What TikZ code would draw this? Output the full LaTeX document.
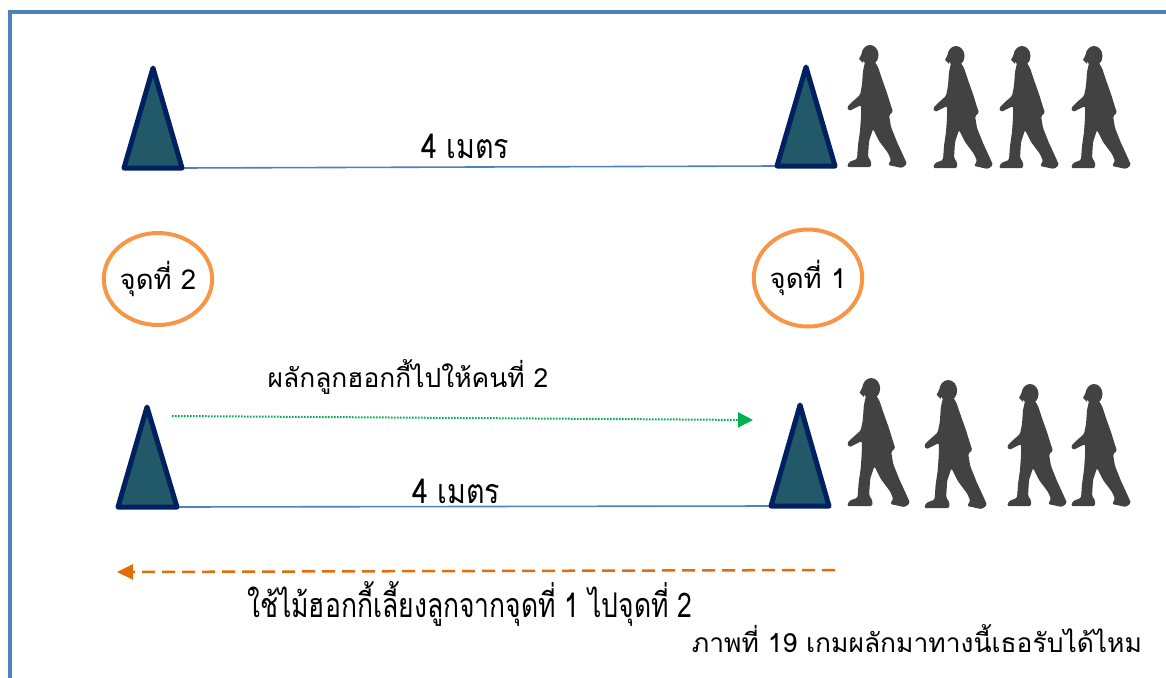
\documentclass[tikz,border=0pt]{standalone}
\usepackage{fontspec}
\usetikzlibrary{arrows.meta,shapes.geometric}
\newfontfamily\thai[Script=Thai]{Loma}
\newfontfamily\thaicond[Script=Thai,FakeStretch=0.78]{Loma}
\newfontfamily\thaimid[Script=Thai,FakeStretch=0.84]{Loma}

\definecolor{frameblue}{HTML}{4F81BD}
\definecolor{conefill}{HTML}{215968}
\definecolor{coneedge}{HTML}{002060}
\definecolor{ringorange}{HTML}{F79646}
\definecolor{dashorange}{HTML}{E46C0A}
\definecolor{walkgrey}{HTML}{424242}
\definecolor{passgreen}{HTML}{00B050}

\tikzset{
  x=1pt, y=-1pt,
  cone/.style={fill=conefill, draw=coneedge, line width=5pt, line join=round},
  distline/.style={draw=frameblue, line width=1.6pt},
  ring/.style={draw=ringorange, line width=4pt, ellipse, inner sep=0pt},
  label/.style={font=\thai\fontsize{26.4}{31}\selectfont, inner sep=1pt},
  ringlabel/.style={font=\thai\fontsize{27.5}{32}\selectfont},
  condlabel/.style={font=\thaicond\fontsize{34}{40}\selectfont, inner sep=1pt},
  distlabel/.style={font=\thaimid\fontsize{34}{40}\selectfont, inner sep=1pt},
  walker/.pic={
    \fill[walkgrey] (24,10) ellipse[x radius=8.5, y radius=10];
    \fill[walkgrey] (17,6) -- (13,14) -- (17,18) -- cycle;
    \fill[walkgrey, rounded corners=1.5pt]
      (19,17) -- (17,26) -- (16,40) -- (14,50) -- (6,57) -- (1,62)
      -- (3,66) -- (9,63) -- (15,60) -- (15,72) -- (14,86) -- (12,100)
      -- (11,114) -- (3,117) -- (1,122) -- (25,122) -- (25,116)
      -- (22,112) -- (23,96) -- (27,84) -- (33,96) -- (42,108)
      -- (45,115) -- (42,120) -- (56,123) -- (61,119) -- (57,110)
      -- (51,97) -- (45,82) -- (43,70) -- (47,67) -- (45,61)
      -- (41,48) -- (36,34) -- (32,22) -- (29,17) -- cycle;
  }
}

\begin{document}
\begin{tikzpicture}
\useasboundingbox (0,0) rectangle (1166,677);
\clip (0,0) rectangle (1166,677);

% outer frame, running off the right and bottom edges
\draw[frameblue, line width=4pt] (9.5,700) -- (9.5,12.5) -- (1190,12.5);

% cone corners
\coordinate (tlA) at (153,68);  \coordinate (tlL) at (124,168); \coordinate (tlR) at (182,168);
\coordinate (trA) at (806,67);  \coordinate (trL) at (777,166); \coordinate (trR) at (835,166);
\coordinate (blA) at (147,407); \coordinate (blL) at (118,507); \coordinate (blR) at (177,507);
\coordinate (brA) at (800,405); \coordinate (brL) at (771,506); \coordinate (brR) at (829,506);

% distance lines between the cones
\draw[distline] (tlR) -- (trL);
\draw[distline] (blR) -- (brL);

% cones
\draw[cone] (tlA) -- (tlL) -- (tlR) -- cycle;
\draw[cone] (trA) -- (trL) -- (trR) -- cycle;
\draw[cone] (blA) -- (blL) -- (blR) -- cycle;
\draw[cone] (brA) -- (brL) -- (brR) -- cycle;

% distance labels
\node[distlabel] (dtop) at (465,146) {4 เมตร};
\node[distlabel] (dbot) at (456,491) {4 เมตร};

% station markers
\node[ring, minimum width=106pt, minimum height=92pt, ringlabel] (st2) at (158,279) {จุดที่ 2};
\node[ring, minimum width=106pt, minimum height=97pt, ringlabel] (st1) at (808,278) {จุดที่ 1};

% walkers queued at station 1
\pic at (846,45) {walker};
\pic at (932,46) {walker};
\pic at (998,46) {walker};
\pic at (1070,46) {walker};
\pic[scale=1.05] at (846,378) {walker};
\pic[scale=1.05] at (923,380) {walker};
\pic at (1006,384) {walker};
\pic at (1070,384) {walker};

% pass arrow
\node[label] (passtxt) at (408,377) {ผลักลูกฮอกกี้ไปให้คนที่ 2};
\coordinate (passS) at (172,416);
\coordinate (passE) at (753,420);
\draw[passgreen, line width=2pt, dash pattern=on 1.6pt off 1.4pt,
      -{Triangle[length=15pt,width=15pt]}] (passS) -- (passE);

% dribble arrow
\coordinate (dribS) at (835,570);
\coordinate (dribE) at (117,572);
\draw[dashorange, line width=2.5pt, dash pattern=on 13pt off 7pt,
      -{Triangle[length=16pt,width=15pt]}] (dribS) -- (dribE);
\node[condlabel] (dribtxt) at (470,604) {ใช้ไม้ฮอกกี้เลี้ยงลูกจากจุดที่ 1 ไปจุดที่ 2};

% caption
\node[label] (caption) at (917,639) {ภาพที่ 19 เกมผลักมาทางนี้เธอรับได้ไหม};
\end{tikzpicture}
\end{document}
